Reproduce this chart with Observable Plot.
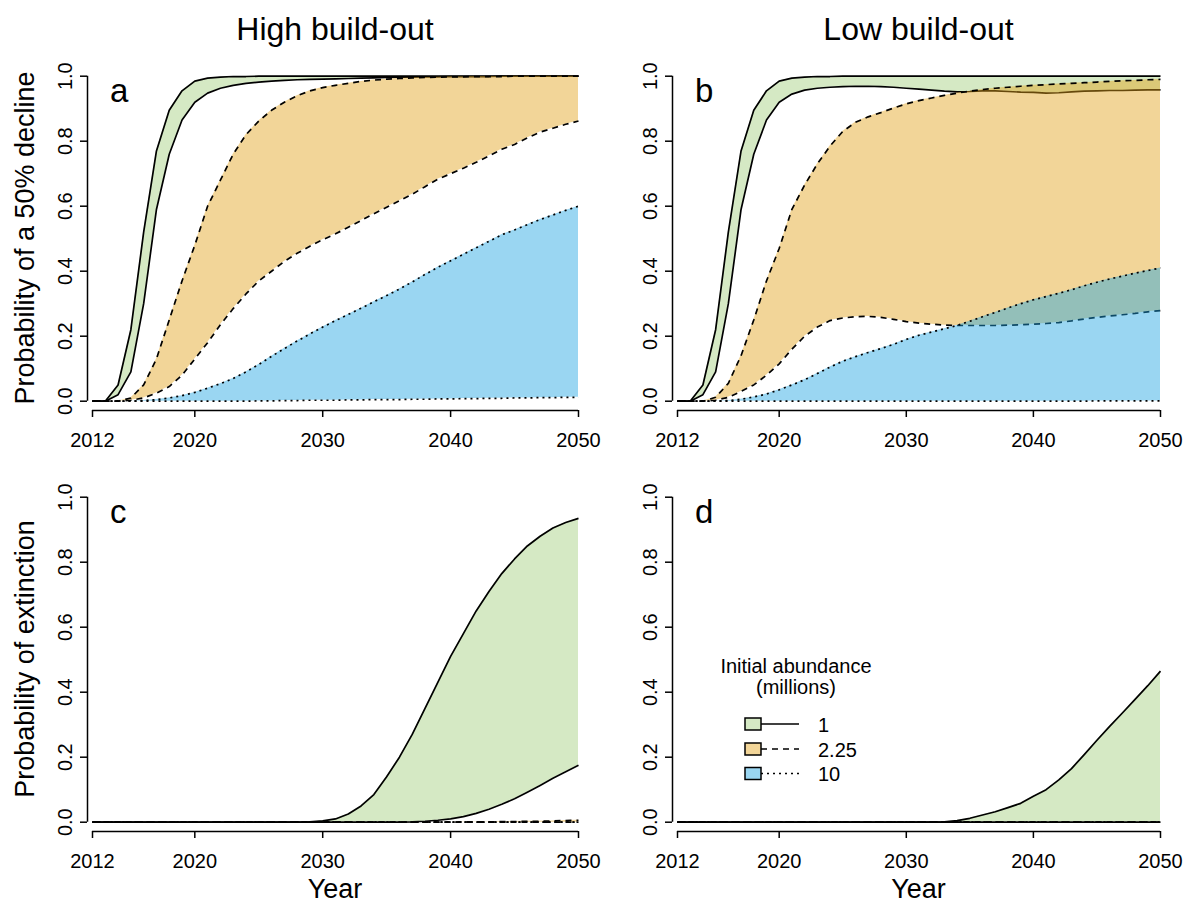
<!DOCTYPE html>
<html><head><meta charset="utf-8">
<script src="https://cdn.jsdelivr.net/npm/d3@7"></script>
<script src="https://cdn.jsdelivr.net/npm/@observablehq/plot@0.6"></script>
<style>
body{margin:0;background:#fff;}
#wrap{position:relative;width:1187px;height:907px;overflow:hidden;background:#fff;font-family:"Liberation Sans",Arial,sans-serif;}
#wrap svg{position:absolute;margin:0;overflow:visible;}
</style></head><body><div id="wrap"></div>
<script>
const years = [2012,2013,2014,2015,2016,2017,2018,2019,2020,2021,2022,2023,2024,2025,2026,2027,2028,2029,2030,2031,2032,2033,2034,2035,2036,2037,2038,2039,2040,2041,2042,2043,2044,2045,2046,2047,2048,2049,2050];
const xTicks = [2012,2020,2030,2040,2050];
const yTicks = [0,0.2,0.4,0.6,0.8,1.0];
const abundanceLabels = ["1","2.25","10"];
const panelTitles = ["High build-out","Low build-out"];
const panelLetters = ["a","b","c","d"];

// (a) High build-out, probability of a 50% decline
const declineHighGreenUpper = [0,0,0.05,0.22,0.52,0.77,0.895,0.955,0.985,0.994,0.997,0.999,0.999,1,1,1,1,1,1,1,1,1,1,1,1,1,1,1,1,1,1,1,1,1,1,1,1,1,1];
const declineHighGreenLower = [0,0,0.02,0.09,0.3,0.59,0.76,0.865,0.92,0.948,0.963,0.972,0.978,0.982,0.985,0.987,0.989,0.99,0.991,0.992,0.993,0.994,0.995,0.996,0.997,0.997,0.998,0.998,0.999,0.999,0.999,0.999,1,1,1,1,1,1,1];
const declineHighOrangeUpper = [0,0,0,0.01,0.05,0.13,0.25,0.37,0.48,0.6,0.68,0.76,0.82,0.862,0.895,0.92,0.94,0.955,0.965,0.972,0.978,0.984,0.988,0.991,0.993,0.995,0.996,0.997,0.998,0.998,0.999,0.999,0.999,1,1,1,1,1,1];
const declineHighOrangeLower = [0,0,0,0.003,0.01,0.025,0.045,0.08,0.13,0.18,0.235,0.285,0.33,0.37,0.4,0.43,0.455,0.477,0.497,0.515,0.535,0.556,0.577,0.597,0.617,0.637,0.66,0.683,0.7,0.717,0.735,0.755,0.775,0.79,0.81,0.828,0.84,0.852,0.862];
const declineHighBlueUpper = [0,0,0,0,0.002,0.005,0.01,0.017,0.027,0.04,0.054,0.07,0.09,0.113,0.138,0.162,0.185,0.207,0.228,0.248,0.267,0.286,0.306,0.325,0.345,0.367,0.39,0.412,0.432,0.452,0.472,0.492,0.512,0.527,0.543,0.559,0.573,0.587,0.6];
const declineHighBlueLower = [0,0,0,0,0,0,0,0,0,0,0,0,0,0.001,0.001,0.002,0.002,0.003,0.003,0.003,0.004,0.004,0.005,0.005,0.005,0.006,0.006,0.007,0.007,0.008,0.008,0.009,0.009,0.01,0.01,0.011,0.011,0.012,0.012];

// (b) Low build-out, probability of a 50% decline
const declineLowGreenUpper = [0,0,0.05,0.22,0.52,0.77,0.895,0.955,0.985,0.994,0.997,0.999,0.999,1,1,1,1,1,1,1,1,1,1,1,1,1,1,1,1,1,1,1,1,1,1,1,1,1,1];
const declineLowGreenLower = [0,0,0.02,0.09,0.3,0.59,0.76,0.865,0.92,0.945,0.957,0.963,0.966,0.968,0.969,0.969,0.968,0.966,0.963,0.96,0.957,0.954,0.952,0.953,0.955,0.955,0.953,0.951,0.95,0.948,0.949,0.952,0.954,0.955,0.956,0.956,0.957,0.958,0.958];
const declineLowOrangeUpper = [0,0,0,0.012,0.055,0.14,0.25,0.37,0.47,0.59,0.665,0.73,0.785,0.83,0.858,0.875,0.888,0.902,0.915,0.925,0.933,0.941,0.948,0.954,0.959,0.963,0.966,0.969,0.972,0.974,0.976,0.978,0.98,0.982,0.984,0.986,0.987,0.989,0.99];
const declineLowOrangeLower = [0,0,0,0.003,0.012,0.03,0.05,0.08,0.115,0.16,0.2,0.228,0.248,0.256,0.26,0.261,0.258,0.252,0.245,0.24,0.237,0.234,0.233,0.233,0.233,0.233,0.234,0.235,0.237,0.239,0.242,0.247,0.253,0.258,0.262,0.266,0.27,0.275,0.279];
const declineLowBlueUpper = [0,0,0,0,0.002,0.006,0.013,0.022,0.035,0.05,0.066,0.085,0.105,0.123,0.137,0.15,0.162,0.175,0.19,0.203,0.213,0.223,0.233,0.246,0.26,0.273,0.287,0.3,0.312,0.322,0.332,0.343,0.355,0.366,0.376,0.385,0.394,0.402,0.41];
const declineLowBlueLower = [0,0,0,0,0,0,0,0,0,0,0,0,0,0,0,0,0,0,0,0,0,0,0,0,0,0,0,0,0,0,0,0,0,0.001,0.001,0.001,0.001,0.001,0.001];

// (c) High build-out, probability of extinction
const extinctHighGreenUpper = [0,0,0,0,0,0,0,0,0,0,0,0,0,0,0,0,0,0.001,0.004,0.01,0.025,0.05,0.085,0.14,0.2,0.27,0.35,0.43,0.51,0.58,0.65,0.71,0.765,0.81,0.85,0.88,0.905,0.922,0.935];
const extinctHighGreenLower = [0,0,0,0,0,0,0,0,0,0,0,0,0,0,0,0,0,0,0,0,0,0,0,0,0,0.001,0.003,0.006,0.01,0.017,0.027,0.04,0.055,0.072,0.092,0.113,0.135,0.155,0.175];
const extinctHighOrangeUpper = [0,0,0,0,0,0,0,0,0,0,0,0,0,0,0,0,0,0,0,0,0,0,0,0,0,0,0,0,0,0.001,0.001,0.001,0.002,0.002,0.003,0.003,0.004,0.005,0.006];
const extinctHighOrangeLower = [0,0,0,0,0,0,0,0,0,0,0,0,0,0,0,0,0,0,0,0,0,0,0,0,0,0,0,0,0,0,0,0,0,0,0,0,0,0,0];
const extinctHighBlueUpper = [0,0,0,0,0,0,0,0,0,0,0,0,0,0,0,0,0,0,0,0,0,0,0,0,0,0,0,0,0,0,0,0,0,0,0,0,0,0,0];
const extinctHighBlueLower = [0,0,0,0,0,0,0,0,0,0,0,0,0,0,0,0,0,0,0,0,0,0,0,0,0,0,0,0,0,0,0,0,0,0,0,0,0,0,0];

// (d) Low build-out, probability of extinction
const extinctLowGreenUpper = [0,0,0,0,0,0,0,0,0,0,0,0,0,0,0,0,0,0,0,0,0,0.001,0.005,0.012,0.022,0.032,0.045,0.058,0.08,0.1,0.13,0.165,0.208,0.252,0.295,0.336,0.378,0.42,0.465];
const extinctLowGreenLower = [0,0,0,0,0,0,0,0,0,0,0,0,0,0,0,0,0,0,0,0,0,0,0,0,0,0,0,0,0,0,0,0,0,0,0,0,0,0,0];
const extinctLowOrangeUpper = [0,0,0,0,0,0,0,0,0,0,0,0,0,0,0,0,0,0,0,0,0,0,0,0,0,0,0,0,0,0,0,0,0,0,0,0,0,0,0];
const extinctLowOrangeLower = [0,0,0,0,0,0,0,0,0,0,0,0,0,0,0,0,0,0,0,0,0,0,0,0,0,0,0,0,0,0,0,0,0,0,0,0,0,0,0];
const extinctLowBlueUpper = [0,0,0,0,0,0,0,0,0,0,0,0,0,0,0,0,0,0,0,0,0,0,0,0,0,0,0,0,0,0,0,0,0,0,0,0,0,0,0];
const extinctLowBlueLower = [0,0,0,0,0,0,0,0,0,0,0,0,0,0,0,0,0,0,0,0,0,0,0,0,0,0,0,0,0,0,0,0,0,0,0,0,0,0,0];

// styles per abundance group
const groupFill = ["#A2CE7C", "#E2A21A", "#1FA4E2"];
const swatchFill = ["#D5E9C4", "#F2D598", "#9AD6F2"];
const groupDash = [null, "6,5", "2,4"];
const FILL_OPACITY = 0.45;
const LW = 1.7;

const wrap = document.getElementById("wrap");
const FONT = "'Liberation Sans', Arial, Helvetica, sans-serif";

function panel(groups, geo) {
  const {left, top, width, height, x0, x1, y0, y1} = geo;
  const marginLeft = x0 - left, marginRight = left + width - x1;
  const marginTop = y1 - top, marginBottom = top + height - y0;
  const marks = [];
  groups.forEach((g, k) => {
    const rows = years.map((yr, i) => ({year: yr, lo: g.lo[i], hi: g.hi[i]}));
    marks.push(Plot.areaY(rows, {x: "year", y1: "lo", y2: "hi", fill: groupFill[k], fillOpacity: FILL_OPACITY}));
    marks.push(Plot.lineY(rows, {x: "year", y: "hi", stroke: "black", strokeWidth: LW, strokeDasharray: groupDash[k], strokeLinecap: "butt"}));
    marks.push(Plot.lineY(rows, {x: "year", y: "lo", stroke: "black", strokeWidth: LW, strokeDasharray: groupDash[k], strokeLinecap: "butt"}));
  });
  // R-style detached axes
  marks.push(Plot.ruleX([2012], {x: d => d, y1: 0, y2: 1, dx: -5, stroke: "black", strokeWidth: 1.5}));
  marks.push(Plot.axisY({ticks: yTicks, tickFormat: d3.format(".1f"), tickSize: 7, tickPadding: 9, tickRotate: -90, dx: -5, strokeWidth: 1.5, fontSize: 20, label: null}));
  marks.push(Plot.ruleY([0], {y: d => d, x1: 2012, x2: 2050, dy: 9.3, stroke: "black", strokeWidth: 1.5}));
  marks.push(Plot.axisX({ticks: xTicks, tickFormat: d => String(d), tickSize: 7, tickPadding: 15, dy: 9.3, strokeWidth: 1.5, fontSize: 20, label: null}));
  const svg = Plot.plot({
    width, height, marginLeft, marginRight, marginTop, marginBottom,
    x: {domain: [2012, 2050], label: null},
    y: {domain: [0, 1], label: null},
    style: {fontFamily: FONT, fontSize: "20px", color: "black", background: "transparent", overflow: "visible"},
    marks
  });
  svg.style.left = left + "px";
  svg.style.top = top + "px";
  wrap.appendChild(svg);
}

const topGeo = {top: 50, height: 420, y0: 400.7, y1: 75.7};
const botGeo = {top: 471, height: 420, y0: 821.7, y1: 496.7};
const leftGeo = {left: 0, width: 593, x0: 92, x1: 578};
const rightGeo = {left: 593, width: 594, x0: 677, x1: 1160};

panel([
  {lo: declineHighGreenLower, hi: declineHighGreenUpper},
  {lo: declineHighOrangeLower, hi: declineHighOrangeUpper},
  {lo: declineHighBlueLower, hi: declineHighBlueUpper}
], {...topGeo, ...leftGeo});
panel([
  {lo: declineLowGreenLower, hi: declineLowGreenUpper},
  {lo: declineLowOrangeLower, hi: declineLowOrangeUpper},
  {lo: declineLowBlueLower, hi: declineLowBlueUpper}
], {...topGeo, ...rightGeo});
panel([
  {lo: extinctHighGreenLower, hi: extinctHighGreenUpper},
  {lo: extinctHighOrangeLower, hi: extinctHighOrangeUpper},
  {lo: extinctHighBlueLower, hi: extinctHighBlueUpper}
], {...botGeo, ...leftGeo});
panel([
  {lo: extinctLowGreenLower, hi: extinctLowGreenUpper},
  {lo: extinctLowOrangeLower, hi: extinctLowOrangeUpper},
  {lo: extinctLowBlueLower, hi: extinctLowBlueUpper}
], {...botGeo, ...rightGeo});

// Overlay text: titles, axis titles, panel letters, legend
const ov = d3.select(wrap).append("svg")
  .attr("width", 1187).attr("height", 907)
  .style("left", "0px").style("top", "0px")
  .attr("font-family", FONT).attr("fill", "black");

ov.append("text").attr("x", 335).attr("y", 40).attr("text-anchor", "middle").attr("font-size", 32).text(panelTitles[0]);
ov.append("text").attr("x", 918.5).attr("y", 40).attr("text-anchor", "middle").attr("font-size", 32).text(panelTitles[1]);

ov.append("text").attr("transform", "translate(34,238) rotate(-90)").attr("text-anchor", "middle").attr("font-size", 27).text("Probability of a 50% decline");
ov.append("text").attr("transform", "translate(34,659) rotate(-90)").attr("text-anchor", "middle").attr("font-size", 27).text("Probability of extinction");

ov.append("text").attr("x", 335).attr("y", 898).attr("text-anchor", "middle").attr("font-size", 27).text("Year");
ov.append("text").attr("x", 918.5).attr("y", 898).attr("text-anchor", "middle").attr("font-size", 27).text("Year");

const letterPos = [[110, 102], [695, 102], [110, 523], [695, 523]];
panelLetters.forEach((t, i) => {
  ov.append("text").attr("x", letterPos[i][0]).attr("y", letterPos[i][1]).attr("font-size", 33).text(t);
});

// legend (inside panel d)
ov.append("text").attr("x", 796).attr("y", 673).attr("text-anchor", "middle").attr("font-size", 20).text("Initial abundance");
ov.append("text").attr("x", 796).attr("y", 694).attr("text-anchor", "middle").attr("font-size", 20).text("(millions)");
const legY = [724, 749, 773.5];
abundanceLabels.forEach((lab, k) => {
  const cy = legY[k];
  ov.append("line").attr("x1", 761).attr("x2", 799).attr("y1", cy).attr("y2", cy)
    .attr("stroke", "black").attr("stroke-width", LW).attr("stroke-dasharray", groupDash[k]);
  ov.append("rect").attr("x", 745).attr("y", cy - 6).attr("width", 16).attr("height", 12)
    .attr("fill", swatchFill[k]).attr("stroke", "black").attr("stroke-width", 1.5);
  ov.append("text").attr("x", 818).attr("y", cy + 7.5).attr("font-size", 20).text(lab);
});
</script>
</body></html>
